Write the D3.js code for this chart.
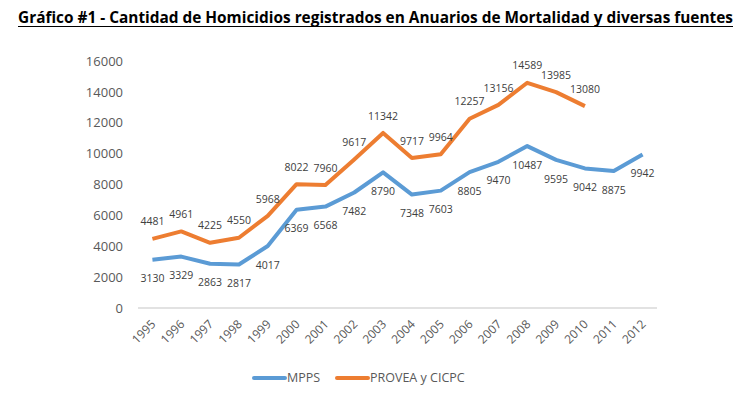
<!DOCTYPE html>
<html>
<head>
<meta charset="utf-8">
<script src="https://cdn.jsdelivr.net/npm/d3@7"></script>
<style>
  body { margin: 0; background: #fff; }
  text { font-family: "Open Sans", "Liberation Sans", sans-serif; }
</style>
</head>
<body>
<div id="chart-area"></div>
<script>
let years = ["1995", "1996", "1997", "1998", "1999", "2000", "2001", "2002", "2003",
    "2004", "2005", "2006", "2007", "2008", "2009", "2010", "2011", "2012"];
let mpps = [3130, 3329, 2863, 2817, 4017, 6369, 6568, 7482, 8790,
    7348, 7603, 8805, 9470, 10487, 9595, 9042, 8875, 9942];
let provea = [4481, 4961, 4225, 4550, 5968, 8022, 7960, 9617, 11342,
    9717, 9964, 12257, 13156, 14589, 13985, 13080];
let yTicks = [0, 2000, 4000, 6000, 8000, 10000, 12000, 14000, 16000];

let width = 756;
let height = 394;
let plot = { left: 138, right: 657, top: 61, bottom: 308 };

let svg = d3.select("#chart-area")
    .append("svg")
    .attr("width", width)
    .attr("height", height);

// Title
let title = svg.append("text")
    .attr("x", 18)
    .attr("y", 23)
    .attr("font-size", 15.5)
    .attr("font-weight", "bold")
    .attr("fill", "#000")
    .text("Gráfico #1 - Cantidad de Homicidios registrados en Anuarios de Mortalidad y diversas fuentes");
title.attr("textLength", 715).attr("lengthAdjust", "spacingAndGlyphs");
svg.append("line")
    .attr("x1", 18).attr("x2", 733)
    .attr("y1", 26.5).attr("y2", 26.5)
    .attr("stroke", "#000")
    .attr("stroke-width", 1.2);

let x = d3.scaleBand()
    .domain(years)
    .range([plot.left, plot.right]);

let y = d3.scaleLinear()
    .domain([0, 16000])
    .range([plot.bottom, plot.top]);

let cx = d => x(d) + x.bandwidth() / 2;

// Y axis
let yAxis = d3.axisLeft(y)
    .tickValues(yTicks)
    .tickFormat(d3.format("d"))
    .tickSize(0)
    .tickPadding(15);

svg.append("g")
    .attr("class", "y-axis")
    .attr("transform", "translate(" + plot.left + ",0)")
    .call(yAxis)
    .call(g => g.select(".domain").remove())
    .selectAll("text")
    .attr("font-size", 13)
    .attr("fill", "#595959")
    .style("font-family", "Open Sans, sans-serif");

// Baseline
svg.append("line")
    .attr("x1", plot.left).attr("x2", plot.right)
    .attr("y1", y(0)).attr("y2", y(0))
    .attr("stroke", "#d9d9d9")
    .attr("stroke-width", 1.5);

// X axis
let xAxis = d3.axisBottom(x).tickSize(0).tickPadding(0);

svg.append("g")
    .attr("class", "x-axis")
    .attr("transform", "translate(0," + y(0) + ")")
    .call(xAxis)
    .call(g => g.select(".domain").remove())
    .selectAll("text")
    .attr("font-size", 12)
    .attr("fill", "#595959")
    .style("font-family", "Open Sans, sans-serif")
    .style("text-anchor", "end")
    .attr("dy", 0)
    .attr("y", 0)
    .attr("transform", "translate(4,17) rotate(-45)");

let line = d3.line()
    .x((d, i) => cx(years[i]))
    .y(d => y(d));

let series = [
    { name: "MPPS", values: mpps, color: "#5B9BD5", dy: 19 },
    { name: "PROVEA y CICPC", values: provea, color: "#ED7D31", dy: -17 }
];

series.forEach(s => {
    svg.append("path")
        .datum(s.values)
        .attr("fill", "none")
        .attr("stroke", s.color)
        .attr("stroke-width", 4)
        .attr("stroke-linejoin", "round")
        .attr("d", line);

    svg.append("g")
        .selectAll("text")
        .data(s.values)
        .enter()
        .append("text")
        .attr("x", (d, i) => cx(years[i]))
        .attr("y", d => y(d) + s.dy)
        .attr("dy", "0.35em")
        .attr("text-anchor", "middle")
        .attr("font-size", 10.5)
        .attr("fill", "#404040")
        .text(d => d);
});

// Legend
let legend = svg.append("g").attr("class", "legend");
let legendItems = [
    { name: "MPPS", color: "#5B9BD5", x: 254 },
    { name: "PROVEA y CICPC", color: "#ED7D31", x: 337 }
];
legendItems.forEach(l => {
    legend.append("line")
        .attr("x1", l.x).attr("x2", l.x + 31)
        .attr("y1", 378).attr("y2", 378)
        .attr("stroke", l.color)
        .attr("stroke-width", 4)
        .attr("stroke-linecap", "round");
    legend.append("text")
        .attr("x", l.x + 33)
        .attr("y", 378)
        .attr("dy", "0.35em")
        .attr("font-size", 12.5)
        .attr("fill", "#595959")
        .text(l.name);
});
</script>
</body>
</html>
